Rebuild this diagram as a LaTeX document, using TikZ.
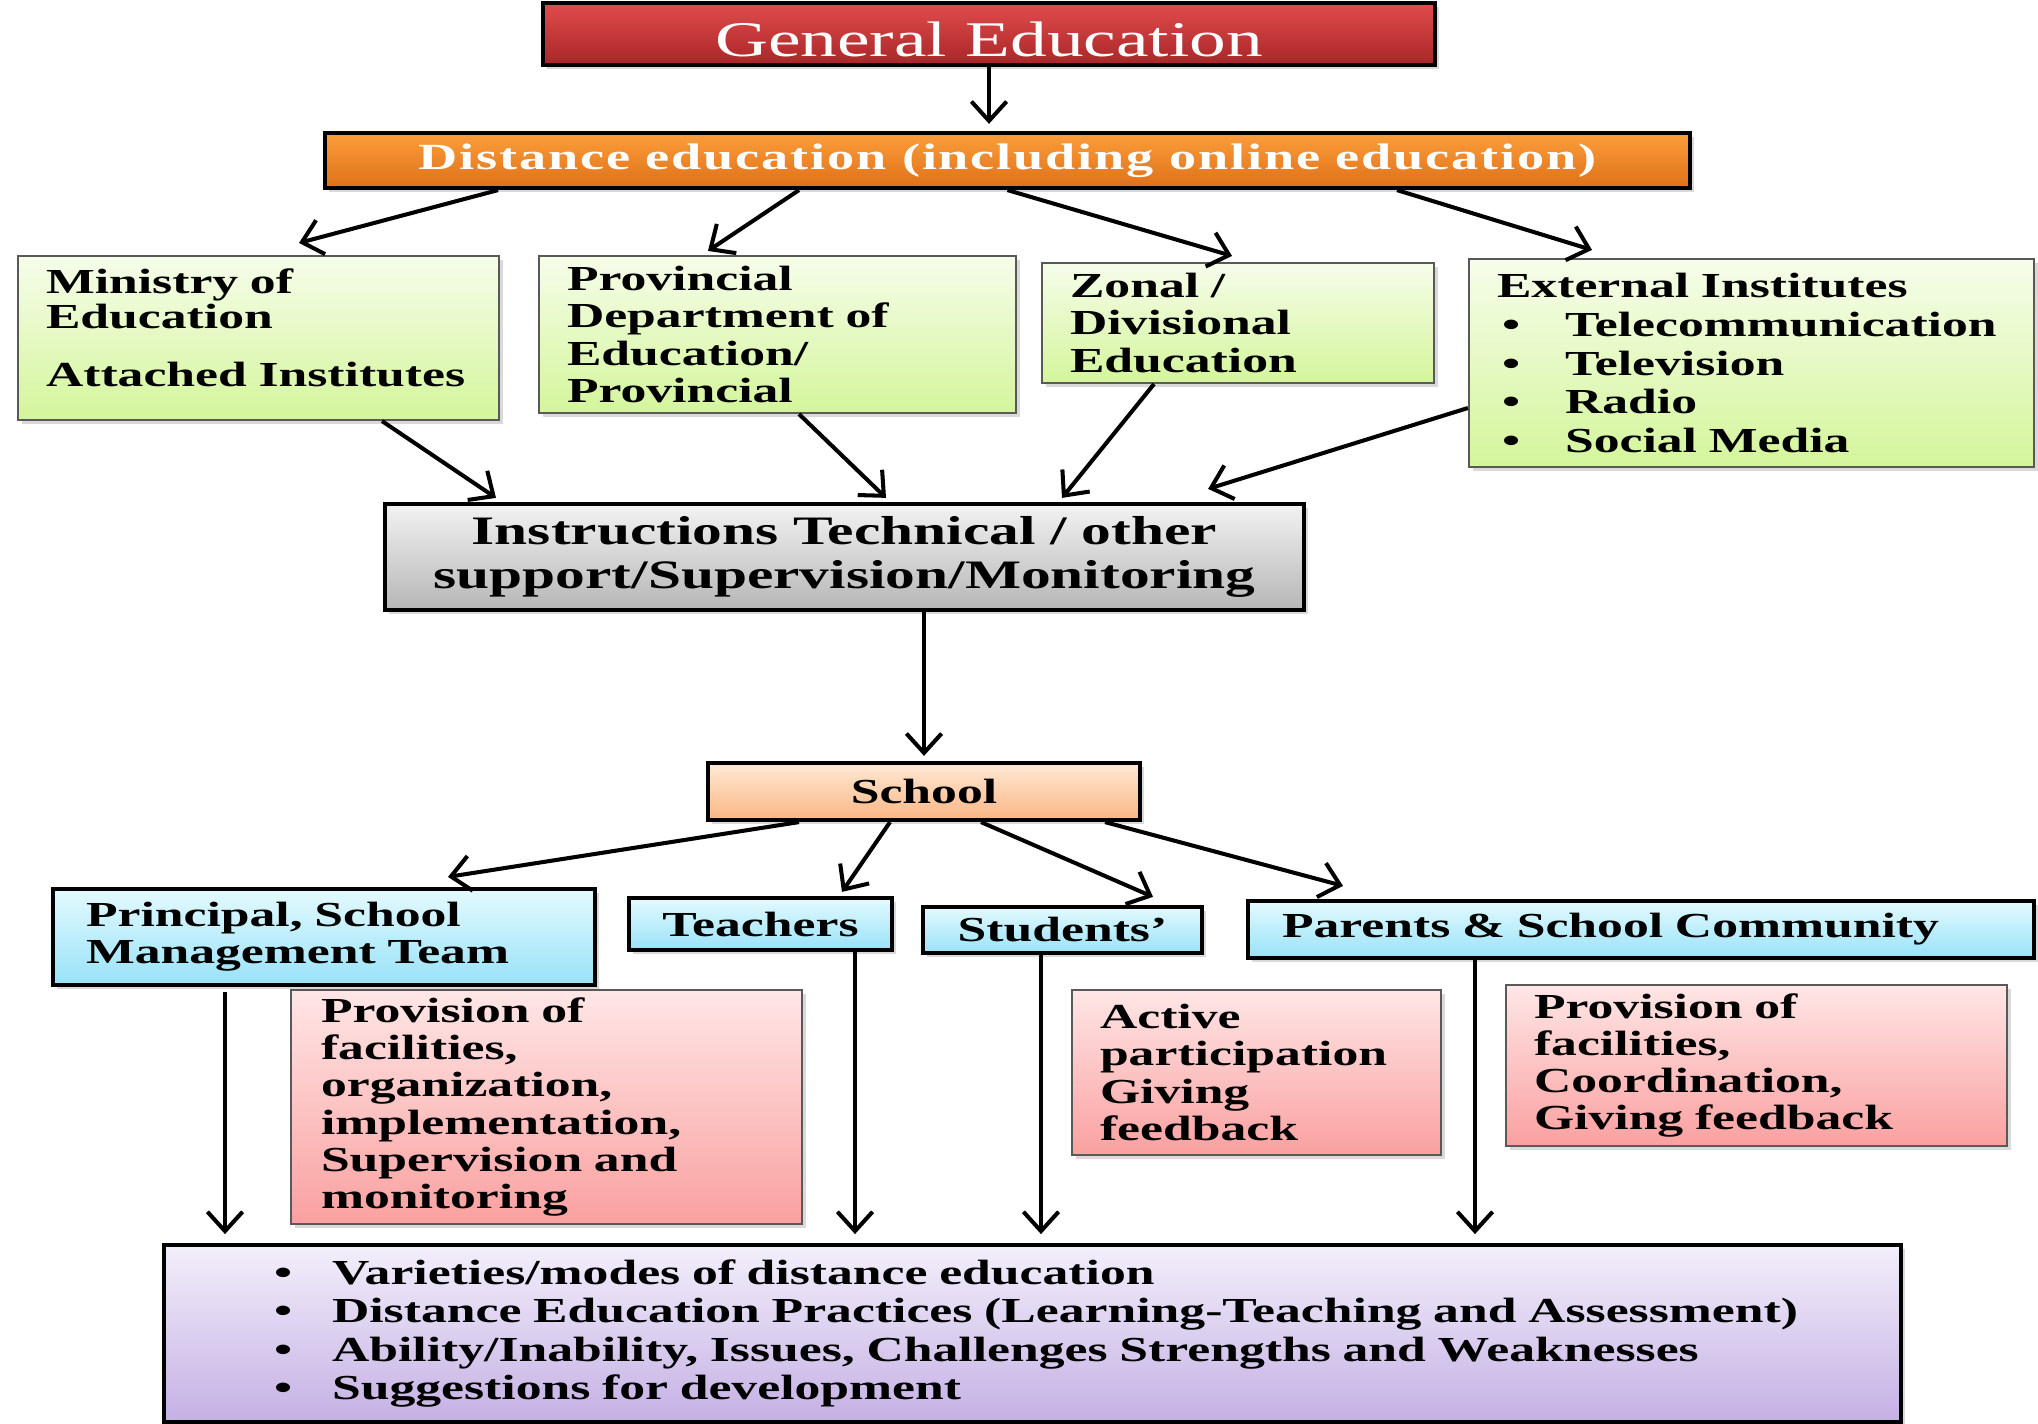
\documentclass[tikz,border=0pt]{standalone}
\usepackage{fontspec}
\setmainfont{Liberation Serif}[FakeStretch=1.47]
\usetikzlibrary{positioning, arrows.meta, shadows}

\definecolor{geTop}{RGB}{226,76,76}
\definecolor{geBot}{RGB}{168,38,40}
\definecolor{deTop}{RGB}{252,158,58}
\definecolor{deBot}{RGB}{222,112,25}
\definecolor{grTop}{RGB}{246,253,234}
\definecolor{grBot}{RGB}{212,245,155}
\definecolor{gyTop}{RGB}{242,242,242}
\definecolor{gyBot}{RGB}{182,182,182}
\definecolor{scTop}{RGB}{255,233,214}
\definecolor{scBot}{RGB}{250,182,132}
\definecolor{blTop}{RGB}{228,250,255}
\definecolor{blBot}{RGB}{152,226,248}
\definecolor{pkTop}{RGB}{255,230,230}
\definecolor{pkBot}{RGB}{250,160,160}
\definecolor{puTop}{RGB}{243,239,251}
\definecolor{puBot}{RGB}{196,176,228}

\begin{document}
\begin{tikzpicture}[
    thickbox/.style={rectangle, draw=black, line width=1.2pt, inner sep=0pt,
      drop shadow={opacity=0.3, shadow xshift=0.04cm, shadow yshift=-0.04cm}},
    thinbox/.style={rectangle, draw=black!65, line width=0.6pt, inner xsep=0.28cm, inner ysep=0pt,
      align=left, drop shadow={opacity=0.3, shadow xshift=0.04cm, shadow yshift=-0.04cm}},
    greenbox/.style={thinbox, top color=grTop, bottom color=grBot},
    pinkbox/.style={thinbox, top color=pkTop, bottom color=pkBot},
    bluebox/.style={thickbox, top color=blTop, bottom color=blBot},
    txt/.style={font=\fontsize{10}{10.6}\selectfont\bfseries},
    arr/.style={-{Straight Barb[length=5.5pt,width=10pt]}, line width=1.15pt}
]
  \useasboundingbox (0,0) rectangle (20.38,-14.24);

  % --- Top ---
  \node[thickbox, top color=geTop, bottom color=geBot, minimum width=8.92cm, minimum height=0.62cm,
        text=white, font=\fontsize{14.2}{17}\selectfont] (ge) at (9.89,-0.34)
        {\raisebox{-0.5mm}[\height][\depth]{General Education}};
  \node[thickbox, top color=deTop, bottom color=deBot, minimum width=13.65cm, minimum height=0.55cm,
        text=white, font=\fontsize{10.5}{12}\selectfont\bfseries\addfontfeature{LetterSpace=5}] (de) at (10.075,-1.605)
        {Distance education (including online education)};

  % --- Institutions ---
  \node[greenbox, txt, font=\fontsize{10}{10}\selectfont\bfseries, minimum width=4.81cm, minimum height=1.64cm, text width=4.25cm] (min) at (2.585,-3.38)
        {Ministry of\\Education\\[6.5pt]Attached Institutes\\[-4.2pt]\mbox{}};
  \node[greenbox, txt, minimum width=4.77cm, minimum height=1.57cm, text width=4.21cm] (prov) at (7.775,-3.345)
        {Provincial\\Department of\\Education/\\Provincial};
  \node[greenbox, txt, minimum width=3.92cm, minimum height=1.20cm, text width=3.36cm] (zon) at (12.38,-3.23)
        {Zonal /\\Divisional\\Education};
  \node[greenbox, txt, font=\fontsize{10}{11}\selectfont\bfseries, minimum width=5.65cm, minimum height=2.08cm, text width=5.09cm] (ext) at (17.515,-3.63)
        {External Institutes\\
         \hspace*{0.05cm}\textbullet\hspace{0.45cm}Telecommunication\\
         \hspace*{0.05cm}\textbullet\hspace{0.45cm}Television\\
         \hspace*{0.05cm}\textbullet\hspace{0.45cm}Radio\\
         \hspace*{0.05cm}\textbullet\hspace{0.45cm}Social Media};

  % --- Support / school ---
  \node[thickbox, top color=gyTop, bottom color=gyBot, minimum width=9.19cm, minimum height=1.06cm,
        align=center, font=\fontsize{11.5}{12.3}\selectfont\bfseries] (ins) at (8.445,-5.57)
        {Instructions Technical / other\\support/Supervision/Monitoring};
  \node[thickbox, top color=scTop, bottom color=scBot, minimum width=4.32cm, minimum height=0.57cm, txt] (sch) at (9.24,-7.915) {School};

  % --- School actors ---
  \node[bluebox, txt, minimum width=5.42cm, minimum height=0.96cm, align=left, text width=4.76cm] (pri) at (3.24,-9.37)
        {Principal, School\\Management Team};
  \node[bluebox, txt, minimum width=2.63cm, minimum height=0.52cm] (tea) at (7.605,-9.24) {Teachers};
  \node[bluebox, txt, minimum width=2.79cm, minimum height=0.46cm] (stu) at (10.625,-9.30) {Students’};
  \node[bluebox, txt, minimum width=7.86cm, minimum height=0.57cm, align=left, text width=7.18cm] (par) at (16.41,-9.295)
        {Parents \& School Community};

  % --- Roles ---
  \node[pinkbox, txt, minimum width=5.11cm, minimum height=2.34cm, text width=4.51cm] (pk1) at (5.465,-11.07)
        {Provision of\\facilities,\\organization,\\implementation,\\Supervision and\\monitoring};
  \node[pinkbox, txt, minimum width=3.69cm, minimum height=1.65cm, text width=3.13cm] (pk2) at (12.565,-10.725)
        {Active\\participation\\Giving\\feedback};
  \node[pinkbox, txt, minimum width=5.01cm, minimum height=1.61cm, text width=4.45cm] (pk3) at (17.565,-10.655)
        {Provision of\\facilities,\\Coordination,\\Giving feedback};

  % --- Outcome ---
  \node[thickbox, top color=puTop, bottom color=puBot, minimum width=17.37cm, minimum height=1.77cm,
        align=left, text width=17.37cm, font=\fontsize{10}{11}\selectfont\bfseries] (bot) at (10.325,-13.335)
        {\hspace*{1.1cm}\textbullet\hspace{0.4cm}Varieties/modes of distance education\\
         \hspace*{1.1cm}\textbullet\hspace{0.4cm}Distance Education Practices (Learning-Teaching and Assessment)\\
         \hspace*{1.1cm}\textbullet\hspace{0.4cm}Ability/Inability, Issues, Challenges Strengths and Weaknesses\\
         \hspace*{1.1cm}\textbullet\hspace{0.4cm}Suggestions for development};

  % --- Connectors ---
  \draw[arr, shorten >=2pt] (ge.south) -- (ge.south |- de.north);
  \draw[arr] ([xshift=-5.095cm]de.south) -- ([xshift=0.405cm,yshift=0.12cm]min.north);
  \draw[arr] ([xshift=-2.085cm]de.south) -- ([xshift=-0.695cm,yshift=0.04cm]prov.north);
  \draw[arr] ([xshift=0cm]de.south) -- ([xshift=-0.06cm,yshift=0.06cm]zon.north);
  \draw[arr] ([xshift=3.895cm]de.south) -- ([xshift=-1.595cm,yshift=0.08cm]ext.north);

  \draw[arr] ([xshift=1.235cm]min.south) -- ([xshift=-3.485cm,yshift=0.04cm]ins.north);
  \draw[arr] ([xshift=0.215cm]prov.south) -- ([xshift=0.415cm,yshift=0.04cm]ins.north);
  \draw[arr] ([xshift=-0.84cm]zon.south) -- ([xshift=2.175cm,yshift=0.04cm]ins.north);
  \draw[arr] ([yshift=-0.45cm]ext.west) -- ([xshift=-0.98cm,yshift=0.13cm]ins.north east);

  \draw[arr] (ins.south -| sch.north) -- ([yshift=0.05cm]sch.north);

  \draw[arr] ([xshift=-1.25cm]sch.south) -- ([xshift=1.24cm,yshift=0.10cm]pri.north);
  \draw[arr] ([xshift=-0.34cm]sch.south) -- ([xshift=0.815cm,yshift=0.04cm]tea.north);
  \draw[arr] ([xshift=0.57cm]sch.south) -- ([xshift=0.905cm,yshift=0.08cm]stu.north);
  \draw[arr] ([xshift=1.81cm]sch.south) -- ([xshift=-2.98cm,yshift=0.13cm]par.north);

  \draw[arr, shorten >=2.5pt] ([xshift=-0.99cm,yshift=-0.05cm]pri.south) -- ([xshift=-0.99cm]pri.south |- bot.north);
  \draw[arr, shorten >=2.5pt] ([xshift=0.945cm]tea.south) -- ([xshift=0.945cm]tea.south |- bot.north);
  \draw[arr, shorten >=2.5pt] ([xshift=-0.215cm]stu.south) -- ([xshift=-0.215cm]stu.south |- bot.north);
  \draw[arr, shorten >=2.5pt] ([xshift=-1.66cm]par.south) -- ([xshift=-1.66cm]par.south |- bot.north);

\end{tikzpicture}
\end{document}
